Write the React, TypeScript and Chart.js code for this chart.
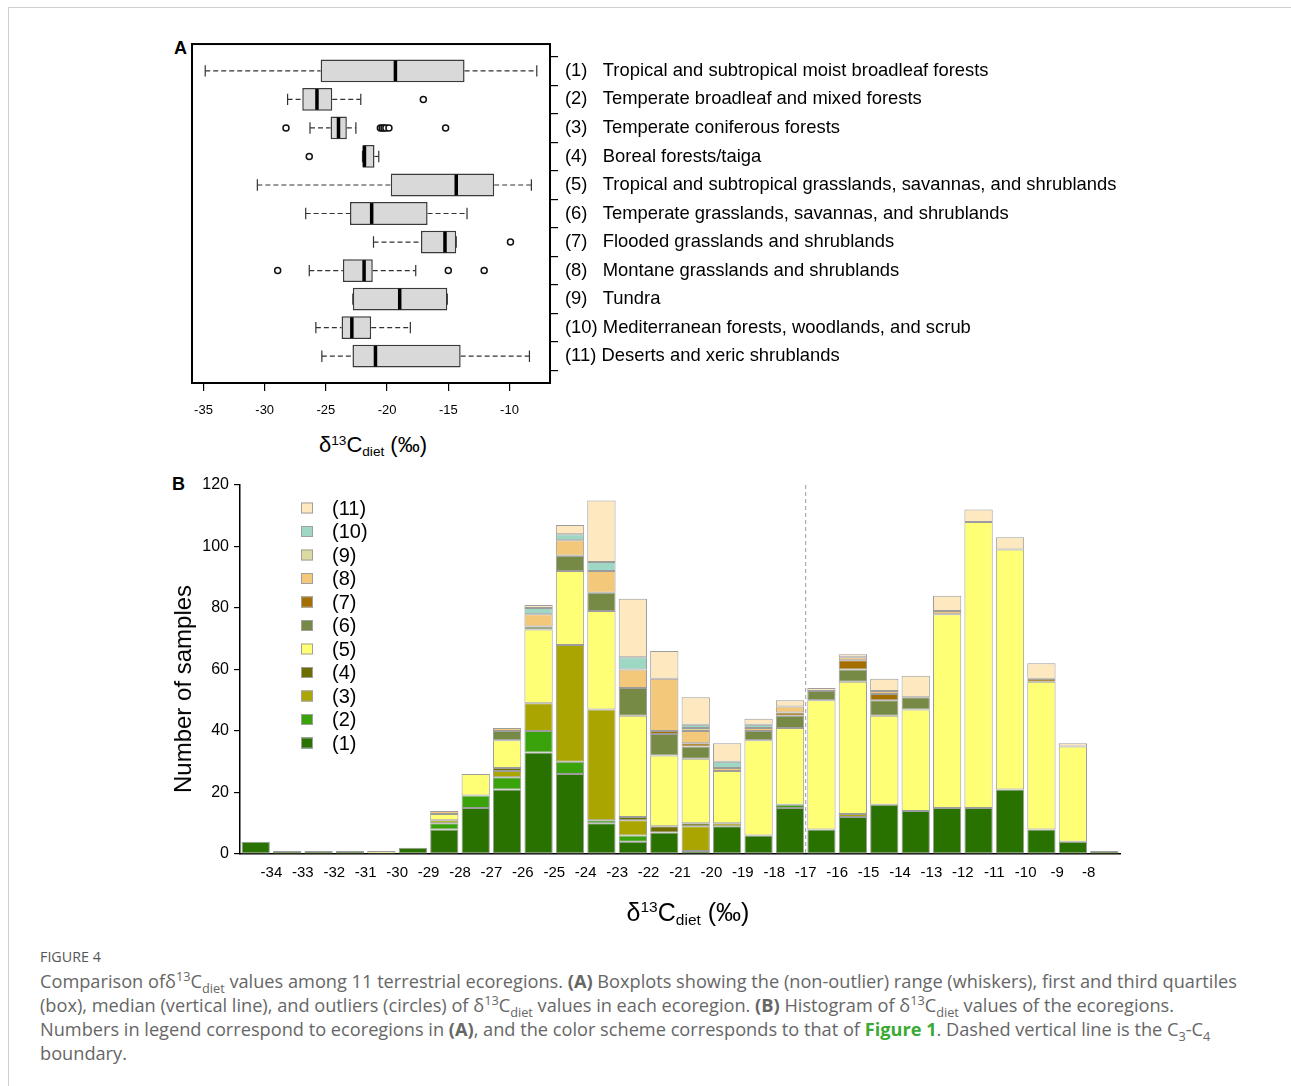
import React, { useEffect, useRef } from "react";
import { Chart, registerables } from "chart.js";

Chart.register(...registerables);

const FONT = "'Liberation Sans', Arial, Helvetica, sans-serif";

// ---------- Panel A: boxplots ----------
const ECOREGION_NUMBERS = ["(1)", "(2)", "(3)", "(4)", "(5)", "(6)", "(7)", "(8)", "(9)", "(10)", "(11)"];
const ECOREGION_NAMES = [
  "Tropical and subtropical moist broadleaf forests",
  "Temperate broadleaf and mixed forests",
  "Temperate coniferous forests",
  "Boreal forests/taiga",
  "Tropical and subtropical grasslands, savannas, and shrublands",
  "Temperate grasslands, savannas, and shrublands",
  "Flooded grasslands and shrublands",
  "Montane grasslands and shrublands",
  "Tundra",
  "Mediterranean forests, woodlands, and scrub",
  "Deserts and xeric shrublands",
];
const BOX_LOW_WHISKER = [-34.86, -28.13, -26.3, -22.01, -30.6, -26.65, -21.11, -26.36, -22.8, -25.82, -25.33];
const BOX_Q1 = [-25.43, -26.93, -24.62, -22.01, -19.7, -23.03, -17.23, -23.61, -22.8, -23.72, -22.83];
const BOX_MEDIAN = [-19.32, -25.73, -23.97, -21.85, -14.35, -21.26, -15.27, -21.88, -18.97, -22.88, -20.95];
const BOX_Q3 = [-13.67, -24.48, -23.29, -21.03, -11.25, -16.69, -14.35, -21.17, -15.08, -21.3, -13.99];
const BOX_HIGH_WHISKER = [-7.77, -22.15, -22.55, -20.68, -8.21, -13.47, -14.35, -17.66, -15.08, -18.1, -8.37];
const OUTLIER_ROWS = [2, 3, 3, 3, 3, 3, 3, 3, 4, 7, 8, 8, 8];
const OUTLIER_VALUES = [-17.04, -28.26, -20.55, -20.4, -20.25, -20.1, -19.85, -15.22, -26.36, -9.92, -28.94, -15.0, -12.07];
const BOX_AXIS_TICKS = [-35, -30, -25, -20, -15, -10];

// ---------- Panel B: stacked histogram ----------
const HIST_BIN_CENTERS = [
  -34.5, -33.5, -32.5, -31.5, -30.5, -29.5, -28.5, -27.5, -26.5, -25.5, -24.5, -23.5, -22.5, -21.5,
  -20.5, -19.5, -18.5, -17.5, -16.5, -15.5, -14.5, -13.5, -12.5, -11.5, -10.5, -9.5, -8.5, -7.5,
];
const HIST_TICK_LABELS = [
  "-34", "-33", "-32", "-31", "-30", "-29", "-28", "-27", "-26", "-25", "-24", "-23", "-22", "-21",
  "-20", "-19", "-18", "-17", "-16", "-15", "-14", "-13", "-12", "-11", "-10", "-9", "-8",
];
const SERIES_LABELS = ["(1)", "(2)", "(3)", "(4)", "(5)", "(6)", "(7)", "(8)", "(9)", "(10)", "(11)"];
const S1 = [4, 1, 1, 1, 0, 2, 8, 15, 21, 33, 26, 10, 4, 7, 1, 9, 6, 15, 8, 12, 16, 14, 15, 15, 21, 8, 4, 1];
const S2 = [0, 0, 0, 0, 0, 0, 2, 4, 4, 7, 4, 1, 2, 0, 0, 0, 0, 1, 0, 0, 0, 0, 0, 0, 0, 0, 0, 0];
const S3 = [0, 0, 0, 0, 0, 0, 1, 0, 2, 9, 38, 36, 5, 0, 8, 1, 0, 0, 0, 1, 0, 0, 0, 0, 0, 0, 0, 0];
const S4 = [0, 0, 0, 0, 0, 0, 0, 0, 1, 0, 0, 0, 1, 2, 1, 0, 0, 0, 0, 0, 0, 0, 0, 0, 0, 0, 0, 0];
const S5 = [0, 0, 0, 0, 1, 0, 2, 7, 9, 24, 24, 32, 33, 23, 21, 17, 31, 25, 42, 43, 29, 33, 63, 93, 78, 48, 31, 0];
const S6 = [0, 0, 0, 0, 0, 0, 0, 0, 3, 1, 5, 6, 9, 7, 4, 0, 3, 4, 3, 4, 5, 4, 0, 0, 0, 0, 0, 0];
const S7 = [0, 0, 0, 0, 0, 0, 0, 0, 0, 0, 0, 0, 0, 1, 1, 0, 0, 1, 0, 3, 2, 0, 0, 0, 0, 1, 0, 0];
const S8 = [0, 0, 0, 0, 0, 0, 1, 0, 1, 4, 5, 7, 6, 17, 4, 1, 1, 2, 0, 1, 1, 0, 1, 0, 0, 0, 0, 0];
const S9 = [0, 0, 0, 0, 0, 0, 0, 0, 0, 0, 0, 0, 0, 0, 1, 0, 0, 0, 0, 0, 0, 0, 0, 0, 0, 0, 0, 0];
const S10 = [0, 0, 0, 0, 0, 0, 0, 0, 0, 2, 2, 3, 4, 0, 1, 2, 1, 0, 0, 0, 0, 0, 0, 0, 0, 0, 0, 0];
const S11 = [0, 0, 0, 0, 0, 0, 0, 0, 0, 1, 3, 20, 19, 9, 9, 6, 2, 2, 1, 1, 4, 7, 5, 4, 4, 5, 1, 0];
const SERIES = [S1, S2, S3, S4, S5, S6, S7, S8, S9, S10, S11];
const SERIES_COLORS = [
  "#2a7200", "#3aa30c", "#aaa500", "#6e6d00", "#ffff75", "#768a45",
  "#a46f00", "#f3c87b", "#dbdaa0", "#9ed8c5", "#fde8c0",
];
const C3_C4_BOUNDARY = -17;

const BOX_HALF = 0.4;
const CAP_HALF = 0.2;

const boxExtras = {
  id: "boxExtras",
  beforeDatasetsDraw(chart: any) {
    const { ctx } = chart;
    const xs = chart.scales.x;
    const ys = chart.scales.y;
    ctx.save();
    ctx.strokeStyle = "#333";
    ctx.lineWidth = 1.2;
    for (let i = 0; i < ECOREGION_NAMES.length; i++) {
      const cy = ys.getPixelForValue(i + 1);
      const capH = Math.abs(ys.getPixelForValue(i + 1 + CAP_HALF) - cy);
      ctx.setLineDash([5, 3]);
      ctx.beginPath();
      ctx.moveTo(xs.getPixelForValue(BOX_LOW_WHISKER[i]), cy);
      ctx.lineTo(xs.getPixelForValue(BOX_Q1[i]), cy);
      ctx.moveTo(xs.getPixelForValue(BOX_Q3[i]), cy);
      ctx.lineTo(xs.getPixelForValue(BOX_HIGH_WHISKER[i]), cy);
      ctx.stroke();
      ctx.setLineDash([]);
      ctx.beginPath();
      for (const v of [BOX_LOW_WHISKER[i], BOX_HIGH_WHISKER[i]]) {
        const px = xs.getPixelForValue(v);
        ctx.moveTo(px, cy - capH);
        ctx.lineTo(px, cy + capH);
      }
      ctx.stroke();
    }
    ctx.restore();
  },
  afterDatasetsDraw(chart: any) {
    const { ctx, chartArea } = chart;
    const xs = chart.scales.x;
    const ys = chart.scales.y;
    ctx.save();
    ctx.strokeStyle = "#000";
    ctx.lineWidth = 3.5;
    for (let i = 0; i < ECOREGION_NAMES.length; i++) {
      const y1 = ys.getPixelForValue(i + 1 - BOX_HALF);
      const y2 = ys.getPixelForValue(i + 1 + BOX_HALF);
      const px = xs.getPixelForValue(BOX_MEDIAN[i]);
      ctx.beginPath();
      ctx.moveTo(px, y1 + 1);
      ctx.lineTo(px, y2 - 1);
      ctx.stroke();
    }
    ctx.lineWidth = 2;
    ctx.strokeRect(chartArea.left, chartArea.top, chartArea.right - chartArea.left, chartArea.bottom - chartArea.top);
    ctx.restore();
  },
};

const histExtras = {
  id: "histExtras",
  afterDatasetsDraw(chart: any) {
    const { ctx, chartArea } = chart;
    const xs = chart.scales.x;
    ctx.save();
    const bx = xs.getPixelForValue(C3_C4_BOUNDARY);
    ctx.strokeStyle = "#9a9a9a";
    ctx.lineWidth = 1;
    ctx.setLineDash([4, 3]);
    ctx.beginPath();
    ctx.moveTo(bx, chartArea.top);
    ctx.lineTo(bx, chartArea.bottom);
    ctx.stroke();
    ctx.setLineDash([]);
    const ds = chart.data.datasets;
    ctx.font = `20px ${FONT}`;
    ctx.textBaseline = "middle";
    ctx.textAlign = "left";
    for (let k = ds.length - 1; k >= 0; k--) {
      const row = ds.length - 1 - k;
      const cy = chartArea.top + 23 + row * 23.5;
      const lx = chartArea.left + 61;
      ctx.fillStyle = ds[k].backgroundColor;
      ctx.fillRect(lx, cy - 5.5, 12, 11);
      ctx.strokeStyle = "#a0a0a0";
      ctx.lineWidth = 1;
      ctx.strokeRect(lx + 0.5, cy - 5, 11, 10);
      ctx.fillStyle = "#000";
      ctx.fillText(ds[k].label, chartArea.left + 92, cy + 1);
    }
    ctx.restore();
  },
};

function rowLabel(i: number) {
  const num = ECOREGION_NUMBERS[i];
  return num + (num.length === 3 ? "   " : " ") + ECOREGION_NAMES[i];
}

const Delta = ({ size }: { size: number }) => (
  <span style={{ fontSize: size, whiteSpace: "nowrap" }}>
    δ<sup style={{ fontSize: "0.62em", verticalAlign: "0.55em", lineHeight: 0 }}>13</sup>C
    <sub style={{ fontSize: "0.62em", verticalAlign: "-0.3em", lineHeight: 0 }}>diet</sub> (‰)
  </span>
);

const supS: React.CSSProperties = { fontSize: "0.7em", lineHeight: 0 };

export default function App() {
  const refA = useRef<HTMLCanvasElement>(null);
  const refB = useRef<HTMLCanvasElement>(null);

  useEffect(() => {
    Chart.defaults.font.family = FONT;
    Chart.defaults.color = "#000";

    const chartA = new Chart(refA.current as HTMLCanvasElement, {
      type: "bar",
      data: {
        datasets: [
          {
            type: "scatter",
            data: OUTLIER_VALUES.map((v, i) => ({ x: v, y: OUTLIER_ROWS[i] })),
            pointRadius: 3,
            pointBackgroundColor: "#fff",
            pointBorderColor: "#111",
            pointBorderWidth: 1.5,
            order: 0,
          } as any,
          {
            type: "bar",
            indexAxis: "y",
            data: ECOREGION_NAMES.map((_, i) => ({ x: [BOX_Q1[i], BOX_Q3[i]], y: i + 1 })),
            backgroundColor: "#d9d9d9",
            borderColor: "#3a3a3a",
            borderWidth: 1.5,
            borderSkipped: false,
            barPercentage: 0.8,
            categoryPercentage: 1,
            order: 1,
          } as any,
        ],
      },
      options: {
        animation: false,
        responsive: false,
        indexAxis: "y",
        layout: { padding: { left: 42, top: 13, right: 0, bottom: 0 } },
        plugins: { legend: { display: false }, tooltip: { enabled: false } },
        scales: {
          x: {
            type: "linear",
            position: "bottom",
            min: -35.94,
            max: -6.69,
            offset: false,
            afterBuildTicks: (s: any) => {
              s.ticks = BOX_AXIS_TICKS.map((v) => ({ value: v }));
            },
            afterFit: (s: any) => {
              s.height = 47;
            },
            ticks: { font: { size: 13 }, color: "#000", padding: 12, callback: (v: any) => String(v) },
            grid: { drawOnChartArea: false, tickLength: 8, color: "#000", lineWidth: 1.2 },
            border: { display: false },
          },
          y: {
            type: "linear",
            position: "right",
            reverse: true,
            offset: false,
            min: 0.06,
            max: 11.94,
            afterBuildTicks: (s: any) => {
              s.ticks = ECOREGION_NAMES.map((_, i) => ({ value: i + 1 }));
            },
            afterFit: (s: any) => {
              s.width = 600;
            },
            ticks: {
              autoSkip: false,
              font: { size: 18.4 },
              color: "#000",
              padding: 7,
              callback: (v: any) => rowLabel(Number(v) - 1),
            },
            grid: { drawOnChartArea: false, tickLength: 8, color: "#000", lineWidth: 1.2 },
            border: { display: false },
          },
        },
      } as any,
      plugins: [boxExtras],
    });

    const chartB = new Chart(refB.current as HTMLCanvasElement, {
      type: "bar",
      data: {
        datasets: SERIES.map((arr, k) => ({
          label: SERIES_LABELS[k],
          data: HIST_BIN_CENTERS.map((x, i) => ({ x, y: arr[i] ? arr[i] : null })),
          backgroundColor: SERIES_COLORS[k],
          borderColor: "#9c9c9c",
          borderWidth: 1,
          borderSkipped: false,
          barPercentage: 0.9,
          categoryPercentage: 1,
        })) as any,
      },
      options: {
        animation: false,
        responsive: false,
        layout: { padding: { left: 0, top: 15, right: 30, bottom: 0 } },
        plugins: { legend: { display: false }, tooltip: { enabled: false } },
        scales: {
          x: {
            type: "linear",
            stacked: true,
            offset: false,
            min: -35,
            max: -7,
            afterBuildTicks: (s: any) => {
              s.ticks = HIST_TICK_LABELS.map((t) => ({ value: Number(t) }));
            },
            afterFit: (s: any) => {
              s.height = 76;
            },
            ticks: {
              autoSkip: false,
              maxRotation: 0,
              font: { size: 15 },
              color: "#000",
              padding: 10,
              callback: (_v: any, i: number) => HIST_TICK_LABELS[i],
            },
            grid: { display: false, drawTicks: false },
            border: { display: true, color: "#000", width: 1.5 },
          },
          y: {
            type: "linear",
            stacked: true,
            min: 0,
            max: 120,
            afterFit: (s: any) => {
              s.width = 90;
            },
            ticks: { stepSize: 20, font: { size: 16 }, color: "#000", padding: 5 },
            grid: { drawOnChartArea: false, tickLength: 6, color: "#000", lineWidth: 1.2 },
            border: { display: true, color: "#000", width: 1.5 },
          },
        },
      } as any,
      plugins: [histExtras],
    });

    return () => {
      chartA.destroy();
      chartB.destroy();
    };
  }, []);

  const abs = (l: number, t: number): React.CSSProperties => ({ position: "absolute", left: l, top: t });

  return (
    <div
      style={{
        position: "fixed",
        left: 0,
        top: 0,
        width: 1291,
        height: 1086,
        overflow: "hidden",
        background: "#fff",
        fontFamily: FONT,
      }}
    >
      <div
        style={{
          position: "absolute",
          left: 8,
          top: 7,
          width: 1400,
          height: 1200,
          borderTop: "1px solid #cfcfcf",
          borderLeft: "1px solid #cfcfcf",
        }}
      />
      <div style={{ ...abs(174, 39), fontWeight: "bold", fontSize: 18, lineHeight: "18px" }}>A</div>
      <canvas ref={refA} width={1000} height={404} style={{ ...abs(150, 26), width: 1000, height: 404 }} />
      <div style={{ position: "absolute", left: 373, top: 445, transform: "translate(-50%, -50%)", lineHeight: 1 }}>
        <Delta size={22} />
      </div>
      <div style={{ ...abs(172, 475), fontWeight: "bold", fontSize: 18, lineHeight: "18px" }}>B</div>
      <canvas ref={refB} width={1000} height={460} style={{ ...abs(150, 470), width: 1000, height: 460 }} />
      <div
        style={{
          position: "absolute",
          left: 183,
          top: 689,
          transform: "translate(-50%, -50%) rotate(-90deg)",
          fontSize: 24,
          lineHeight: 1,
          whiteSpace: "nowrap",
        }}
      >
        Number of samples
      </div>
      <div style={{ position: "absolute", left: 688, top: 912, transform: "translate(-50%, -50%)", lineHeight: 1 }}>
        <Delta size={25} />
      </div>
      <div
        style={{
          ...abs(40, 947),
          fontFamily: "'Open Sans', sans-serif",
          fontSize: 14.3,
          lineHeight: "20px",
          color: "#555",
        }}
      >
        FIGURE 4
      </div>
      <div
        style={{
          ...abs(40, 969),
          fontFamily: "'Open Sans', sans-serif",
          fontSize: 18.2,
          lineHeight: "24px",
          color: "#666",
          whiteSpace: "nowrap",
        }}
      >
        Comparison ofδ<sup style={supS}>13</sup>C<sub style={supS}>diet</sub> values among 11 terrestrial ecoregions.{" "}
        <b>(A)</b> Boxplots showing the (non-outlier) range (whiskers), first and third quartiles
        <br />
        (box), median (vertical line), and outliers (circles) of δ<sup style={supS}>13</sup>C<sub style={supS}>diet</sub>{" "}
        values in each ecoregion. <b>(B)</b> Histogram of δ<sup style={supS}>13</sup>C<sub style={supS}>diet</sub> values of
        the ecoregions.
        <br />
        Numbers in legend correspond to ecoregions in <b>(A)</b>, and the color scheme corresponds to that of{" "}
        <b style={{ color: "#3aa935" }}>Figure 1</b>. Dashed vertical line is the C<sub style={supS}>3</sub>-C
        <sub style={supS}>4</sub>
        <br />
        boundary.
      </div>
    </div>
  );
}
